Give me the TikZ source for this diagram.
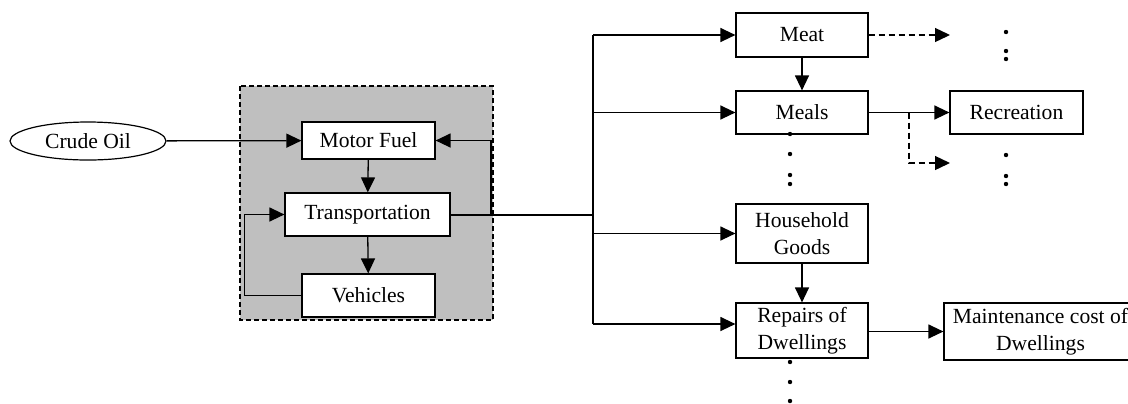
\documentclass[tikz,border=0pt]{standalone}
\usepackage{fontspec}
\setmainfont{Liberation Serif}
\usetikzlibrary{arrows.meta, shapes.geometric}

\begin{document}
\begin{tikzpicture}[x=0.5pt, y=-0.5pt, >={Triangle[length=7.5pt, width=7pt]},
        every node/.style={font=\fontsize{10.8}{13.5}\selectfont},
        box/.style={draw, fill=white, line width=0.6pt, inner sep=0pt, align=center},
        conn/.style={line width=0.65pt},
        dashconn/.style={line width=0.65pt, dash pattern=on 3pt off 2pt},
        groupbox/.style={fill=gray!50, line width=0.8pt, dash pattern=on 2.5pt off 1.5pt}]
        \useasboundingbox (0,0) rectangle (1128,403);
        % shaded group
        \draw[groupbox] (240,86) rectangle (493,320);
        \node[draw, ellipse, line width=0.6pt, inner sep=0pt, minimum width=78pt, minimum height=19pt] (crude) at (88,141) {Crude Oil};
        \node[box, minimum width=66.5pt, minimum height=18.5pt] (motor) at (368.5,140.5) {Motor Fuel};
        \node[box, minimum width=82.5pt, minimum height=21.5pt] (trans) at (367.5,214.5) {Transportation};
        \node[box, minimum width=66.5pt, minimum height=21.5pt] (veh) at (368.5,295.5) {Vehicles};
        \node[box, minimum width=66pt, minimum height=22pt] (meat) at (802,35) {Meat};
        \node[box, minimum width=66pt, minimum height=21.5pt] (meals) at (802,112.5) {Meals};
        \node[box, minimum width=66pt, minimum height=29.5pt] (goods) at (802,233.5) {Household\\Goods};
        \node[box, minimum width=66pt, minimum height=27.5pt] (repairs) at (802,330.5) {Repairs of\\Dwellings};
        \node[box, minimum width=66.5pt, minimum height=21.5pt] (recr) at (1016.5,112.5) {Recreation};
        \node[box, minimum width=96.5pt, minimum height=28.5pt] (maint) at (1040.5,331.5) {Maintenance cost of\\Dwellings};
        \coordinate (fb) at (491,214.5);
        \coordinate (bustop) at (593,35);
        \coordinate (busbot) at (593,324);
        \coordinate (meatend) at (950,35);
        \coordinate (split) at (909,112.5);
        \coordinate (splitend) at (950,163);
        % transport group
        \draw[conn, ->] (crude) -- (motor);
        \draw[conn, ->] (motor) -- (trans);
        \draw[conn, ->] (trans) -- (veh);
        \draw[conn, ->] (veh.west) -- ++(-57,0) |- (trans.west);
        \draw[conn, ->] (fb) |- (motor.east);
        \draw[conn, line width=1pt] (trans.east) -- (trans.east -| bustop);
        % distribution bus
        \draw[conn] (bustop) -- (busbot);
        \draw[conn, ->] (bustop) -- (meat.west);
        \draw[conn, ->] (bustop |- meals.west) -- (meals.west);
        \draw[conn, ->] (bustop |- goods.west) -- (goods.west);
        \draw[conn, ->] (busbot) -- (busbot -| repairs.west);
        \draw[conn, ->] (meat) -- (meals);
        \draw[conn, ->] (goods) -- (repairs);
        \draw[conn, ->] (repairs.east |- maint.west) -- (maint.west);
        \draw[conn, ->] (meals) -- (recr);
        \draw[dashconn, ->] (meat.east) -- (meatend);
        \draw[dashconn, ->] (split) |- (splitend);
        % continuation dots
        \foreach \x/\y in {1006/32, 1006/51, 1006/59, 1006/155, 1006/176, 1006/184,
                790/134, 790/154, 790/175, 790/184, 790/362, 790/382, 790/401}
            \fill (\x,\y) circle (1.1pt);
\end{tikzpicture}
\end{document}
